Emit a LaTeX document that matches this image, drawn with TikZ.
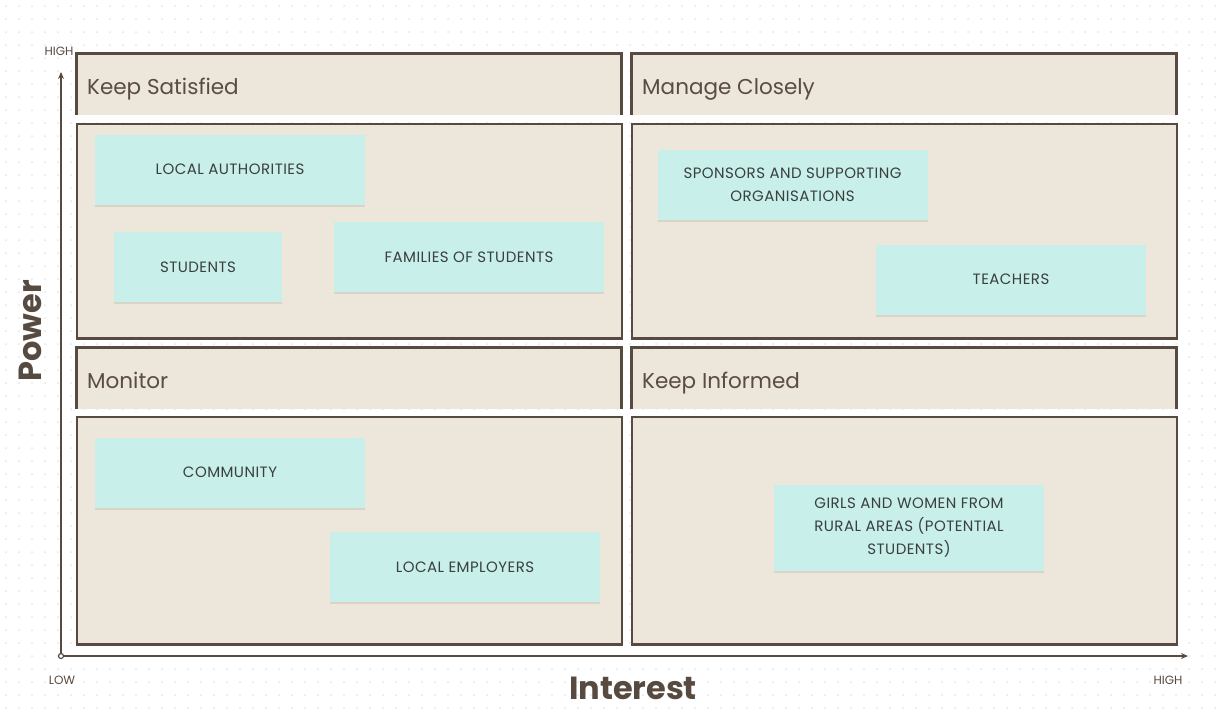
\documentclass[tikz,border=0pt]{standalone}
\usepackage{fontspec}
\setmainfont{Poppins}
\newfontfamily\notefont[LetterSpace=3]{Poppins}
\usetikzlibrary{shadows,arrows.meta}
\definecolor{quadbg}{HTML}{EDE6DA}
\definecolor{brd}{HTML}{574A40}
\definecolor{sticky}{HTML}{C8EFE9}
\definecolor{stxt}{HTML}{3A3F3F}
\definecolor{htxt}{HTML}{5A4C43}
\definecolor{dotc}{HTML}{E6E6E6}
\tikzset{
  hdrbox/.style={fill=quadbg, draw=none, minimum width=545, minimum height=62, anchor=north west, inner sep=0},
  bodybox/.style={fill=quadbg, draw=brd, line width=1.6pt, minimum width=545, minimum height=214, anchor=north west, inner sep=0},
  hdrtext/.style={anchor=base west, text=htxt, font=\fontsize{21.5}{25}\selectfont, inner sep=0},
  note/.style={fill=sticky, draw=none, minimum width=270, minimum height=70, inner sep=0, align=center, text=stxt,
     font=\notefont\fontsize{15}{23}\selectfont,
     drop shadow={shadow xshift=0pt, shadow yshift=-2pt, fill=black, opacity=0.08}},
  axis/.style={draw=brd, line width=1.4pt},
  tick/.style={text=brd, font=\fontsize{12}{14}\selectfont, inner sep=0},
  axtitle/.style={text=brd, font=\fontsize{32}{36}\selectfont\bfseries, inner sep=0, text depth=0pt, anchor=base}
}
\begin{document}
\begin{tikzpicture}[x=1pt,y=-1pt]
\useasboundingbox (0,0) rectangle (1220,710);
\fill[white] (0,0) rectangle (1220,710);
% dotted background
\foreach \i in {0,...,93}{\foreach \j in {0,...,54}{\fill[dotc] (\i*13+6,\j*13+6) circle (1);}}

% quadrant headers
\node[hdrbox] (h1) at (76,53) {};
\node[hdrbox] (h2) at (631,53) {};
\node[hdrbox] (h3) at (76,347) {};
\node[hdrbox] (h4) at (631,347) {};
\foreach \h in {h1,h2,h3,h4}{
  \draw[brd, line width=3pt] (\h.south west) -- (\h.north west) -- (\h.north east) -- (\h.south east);
}
\node[hdrtext] (t1) at ([xshift=11pt,yshift=-41pt]h1.north west) {Keep Satisfied};
\node[hdrtext] (t2) at ([xshift=11pt,yshift=-41pt]h2.north west) {Manage Closely};
\node[hdrtext] (t3) at ([xshift=11pt,yshift=-41pt]h3.north west) {Monitor};
\node[hdrtext] (t4) at ([xshift=11pt,yshift=-41pt]h4.north west) {Keep Informed};

% quadrant bodies
\node[bodybox] (b1) at (76,123) {};
\node[bodybox] (b2) at (631,123) {};
\node[bodybox, minimum height=227] (b3) at (76,416) {};
\node[bodybox, minimum height=227] (b4) at (631,416) {};
\foreach \b in {b1,b2,b3,b4}{
  \draw[brd, line width=2.6pt] (\b.south west) -- (\b.south east);
}

% sticky notes
\node[note] (la) at (230,169.5) {LOCAL AUTHORITIES};
\node[note, minimum width=168] (st) at (198,267) {STUDENTS};
\node[note] (fam) at (469,257) {FAMILIES OF STUDENTS};
\node[note] (sp) at (792.5,185) {SPONSORS AND SUPPORTING\\ORGANISATIONS};
\node[note] (te) at (1011,279.5) {TEACHERS};
\node[note] (com) at (230,472.5) {COMMUNITY};
\node[note] (le) at (465,567) {LOCAL EMPLOYERS};
\node[note, minimum height=86] (gw) at (909,528) {GIRLS AND WOMEN FROM\\RURAL AREAS (POTENTIAL\\STUDENTS)};

% axes
\coordinate (o) at (61,656);
\coordinate (ytop) at (61,72);
\coordinate (xend) at (1188,656);
\draw[axis, -{Stealth[length=7pt,width=6pt]}] (o) -- (ytop);
\draw[axis, -{Stealth[length=7pt,width=6pt]}] (o) -- (xend);
\draw[brd, line width=1.2pt, fill=white] (o) circle (2.5);

\node[tick] (hy) at (59,51) {HIGH};
\node[tick] (lx) at (62,680) {LOW};
\node[tick] (hx) at (1168,680) {HIGH};
\node[axtitle] (it) at (633,699) {Interest};
\node[axtitle, rotate=90] (pw) at (41,331) {Power};
\end{tikzpicture}
\end{document}
